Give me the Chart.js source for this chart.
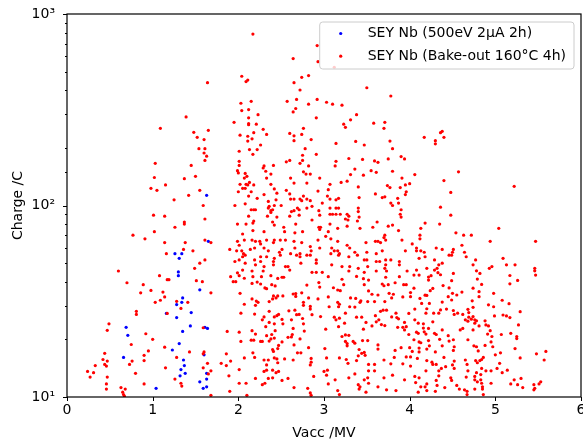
<!DOCTYPE html>
<html>
<head>
<meta charset="utf-8">
<script src="https://cdn.jsdelivr.net/npm/chart.js@4.4.1/dist/chart.umd.min.js"></script>
<style>
  html, body { margin: 0; padding: 0; background: #fff; }
  #wrap { width: 583px; height: 443px; }
</style>
</head>
<body>
<div id="wrap"><canvas id="chart" width="583" height="443"></canvas></div>
<script>
// [Vacc (MV), Charge (C)]
const blueSey = [
  [1.63,113],[1.65,65],[1.26,56],[1.34,56],[1.31,53],[1.30,45],[1.30,43],[1.55,36.3],[1.35,32.9],[1.34,31.2],
  [1.28,30.4],[1.16,27.3],[1.28,26],[1.45,27.6],[1.61,23.1],[1.64,22.8],[1.44,23.5],[1.35,22],[0.69,23.1],[0.71,21],
  [1.31,19],[1.23,17.6],[1.60,16.6],[0.66,16.1],[1.36,15.6],[1.37,14.6],[1.33,13.9],[1.38,13.3],[1.32,12.9],[1.63,13.3],
  [1.63,12.4],[1.55,12],[1.63,11.3],[1.59,11.1],[1.04,11.1]
];

const redLowVacc = [
  [1.64,438],[1.39,290],[1.09,253],[1.48,241],[1.52,227],[1.60,221],[1.65,247],[1.95,272],
  [1.54,198],[1.61,198],[1.60,188],[1.63,181],[1.61,172],[1.03,166],[1.45,162],[2.01,192],[2.01,170],[2.01,162],[1.99,152],[2.00,148],
  [1.02,140],[1.37,138],[1.50,142],[1.15,128],[0.98,123],[1.05,120],[1.55,120],[1.42,113],[2.00,118],[1.25,107],
  [1.59,100],[1.96,100],[1.01,89],[1.14,88],[1.61,85],[1.37,82],[1.37,80],[1.99,80],[1.26,77],[1.02,73],
  [0.77,70],[0.91,67],[1.61,66],[1.68,64],[1.14,64],[1.38,64],[1.99,65],[2.01,62],[1.36,59],[1.47,58],
  [1.90,59],[1.98,58],[1.16,56],[1.61,52],[1.55,50],[1.96,51],[2.01,52],[1.49,47],
  [0.60,45.5],[1.08,43],[1.17,41],[1.19,41],[1.51,40.5],[1.58,40],[1.91,42.5],[1.94,40],[1.97,40],[1.99,44.5],
  [2.01,43],[0.70,39.5],[0.89,38.6],[0.86,35],[0.98,36],[1.12,35.3],[1.14,33.3],[1.09,32],[1.03,31.2],[1.28,31.6],
  [1.41,31.2],[1.33,29],[1.68,35],[0.81,28],[0.81,27],[1.17,27.3],[0.49,24.1],[0.47,22.3],[0.92,21.4],[1.00,20],
  [0.75,18.8],[1.14,18.2],[1.43,17.2],[1.59,23],[1.87,22],[2.01,21.8],[0.44,16.9],[0.42,15.7],[0.47,15.4],[0.44,14.8],
  [0.46,14.5],[0.33,14.6],[0.24,13.6],[0.31,13.4],[0.27,12.7],[0.47,12.7],[0.90,16.5],[0.95,17.4],[0.90,15.5],[0.76,15.4],
  [0.73,14.8],[1.28,16.1],[1.60,17.2],[1.59,16.8],[1.64,15],[1.59,14.2],[1.68,13.7],[1.65,13.2],[1.86,16.8],[1.91,15.4],
  [1.80,15],[1.86,14.6],[1.89,12.9],[2.01,13.9],[2.01,11.8],[1.15,14.2],[0.80,13.3],[1.26,12.4],[1.33,11.8],[1.34,11.4],
  [0.90,11.7],[0.63,11.2],[0.68,11],[0.46,11.7],[0.46,11],[0.65,10.6],[0.66,10.3],[0.67,10.1],[1.90,10.7],[1.68,10.2]
];

const redMidVacc = [
  [2.17,786],[2.64,585],[2.92,684],[2.93,564],[3.12,527],[2.04,473],[2.09,444],[2.11,452],[2.74,467],[2.82,477],
  [2.65,438],[2.72,401],[3.50,412],[3.78,373],[2.03,342],[2.15,350],[2.57,350],[2.68,358],[2.82,338],[2.92,358],
  [3.03,346],[3.10,338],[3.21,334],[2.04,313],[2.12,317],[2.67,321],[2.64,308],[2.23,298],[2.91,287],[3.38,298],
  [3.31,280],[2.12,287],[2.12,268],[2.12,264],[2.21,266],[3.23,266],[3.25,256],[3.58,269],[3.71,272],[3.70,253],
  [2.29,250],[2.18,240],[2.33,235],[2.60,238],[2.74,235],[2.76,253],[2.02,233],[2.11,230],[2.16,223],[2.65,231],
  [2.65,218],[2.85,221],[3.37,216],[3.77,217],[2.11,217],
  [2.13,196],[2.17,185],[2.22,196],[2.26,207],[2.78,198],[2.91,185],[3.14,211],[3.47,207],[3.80,198],[3.90,180],
  [3.94,175],[3.75,175],[2.60,172],[2.56,169],[2.75,183],[2.75,172],[2.72,166],[2.82,161],[2.30,161],[2.29,157],
  [2.41,162],[3.29,176],[3.45,174],[3.59,171],[3.63,168],[3.14,170],[3.13,161],[3.36,155],[3.55,152],[3.61,149],
  [3.80,151],[2.32,151],[2.38,146],[2.08,147],[2.10,142],[2.07,139],[2.76,150],[2.79,146],[2.84,146],[2.61,139],
  [2.65,131],[2.33,139],[2.95,139],[3.31,145],[3.46,144],[3.91,139],[3.20,132],[3.27,134],[3.07,129],[2.80,131],
  [3.95,128],[4.00,130],[3.74,127],[3.77,124],[2.09,129],[2.11,128],[2.13,132],[2.18,128],[2.05,123],[2.08,123],
  [2.02,129],[2.15,118],[2.38,129],[2.42,122],[2.56,120],[2.93,119],[3.05,121],[3.40,125],[3.89,124],[3.96,118],
  [3.60,115],[3.71,111],[2.12,112],[2.22,109],[2.30,114],[2.45,116],[2.60,115],[2.76,112],[2.80,108],[3.04,112],
  [3.07,108],[2.08,102],[2.35,105],[2.36,99],[2.44,107],[2.42,100],[2.61,108],[2.65,108],[2.72,108],[2.74,106],
  [2.84,106],[3.14,107],[3.17,109],[2.98,103],[3.41,110],[3.78,103],[3.80,100],[3.86,109],[3.87,103],[3.95,114],
  [3.68,110],[2.35,97],[2.50,100],[2.15,95],[2.18,95],[2.20,95],[2.40,95],[2.38,94],[2.69,97],[2.71,95],
  [2.80,97],[2.86,99],[2.94,94],[3.07,97],[3.14,97],[3.17,97],[3.40,97],[2.65,94],[2.62,93],[3.90,95],
  [2.12,88],[2.18,83],[2.34,88],[2.38,92],[2.45,87],[2.60,88],[2.71,89],[2.95,89],[3.07,90],[3.10,90],
  [3.14,90],[3.19,90],[3.27,90],[3.29,88],[3.28,84],[3.25,85],[3.40,93],[3.41,87],[3.39,83],[2.86,84],
  [3.89,90],[3.90,87],[3.62,82],[3.75,78],[3.80,79],[3.57,77],[2.09,80],[2.17,81],[2.40,82],[2.42,79],
  [2.53,77],[2.67,80],[2.66,72],[2.54,73],[2.94,77],[2.96,77],[2.95,75],[3.07,80],[3.05,73],[3.16,76],
  [3.27,78],[2.17,74],[2.30,73],[2.05,71],[2.75,73],[3.42,76],[3.71,70],[3.87,74],[2.07,66],[2.16,66],
  [2.20,65],[2.25,65],[2.26,63],[2.33,66],[2.42,66],[2.41,64],[2.49,66],[2.55,66],[2.65,65],[2.74,64],
  [2.93,66],[3.02,69],[3.08,67],[3.16,65],[3.09,60],[3.27,62],[3.30,60],[3.49,64],[3.60,65],[3.63,65],
  [3.66,64],[3.70,68],[3.72,66],[3.91,66],[2.04,58],[2.06,56],[2.19,60],[2.14,59],[2.30,60],[2.35,58],
  [2.48,57],[2.51,59],[2.66,60],[2.84,61],[2.85,58],[2.95,60],[3.12,58],[3.16,58],[3.36,57],[3.50,57],
  [3.61,56],[3.68,58],[3.95,58],[2.05,54],[2.08,55],[2.19,52],[2.26,51],[2.26,54],[2.33,54],[2.41,51],
  [2.42,53],[2.49,55],[2.61,56],[2.68,55],[2.72,56],[2.72,54],[2.80,55],[2.84,55],[2.91,52],[3.08,56],
  [3.17,55],[3.18,56],[3.29,54],[3.39,55],[3.47,52],[3.50,52],[3.61,51],[3.65,51],[3.72,52],[3.78,52],
  [3.88,51],[2.08,50],[2.20,49],[2.30,48],[2.41,49],[2.55,48],[2.58,48],[2.73,50],[2.91,50],[3.09,49],
  [3.21,48],[3.30,48],[3.40,47],[3.51,48],[3.71,47],[3.72,49],[3.88,49],
  [2.05,46],[2.16,45.5],[2.17,42.5],[2.27,42.5],[2.29,45.5],[2.38,43],[2.46,41.6],[2.51,42.2],[2.53,42.2],[2.60,46],
  [2.86,44.8],[2.91,44.8],[2.98,44.8],[3.05,42.5],[3.21,41.2],[3.29,45.5],[3.38,42.6],[3.47,44.8],[3.46,41.5],[3.52,40.8],
  [3.61,45.5],[3.73,45.5],[3.72,42.2],[3.88,42.5],[3.97,45.5],[2.07,41.7],[2.16,39.2],[2.22,39.8],[2.26,38.9],[2.31,37.1],
  [2.33,36.8],[2.39,38.6],[2.43,38],[2.67,34.7],[2.74,35],[2.80,38.4],[2.94,39.6],[2.95,37.5],[3.11,37.2],[3.16,36.2],
  [3.19,35.9],[3.23,38.6],[3.47,38.6],[3.52,35.8],[3.56,34.4],[3.68,38.9],[3.70,38.1],[3.75,38.6],[3.83,39.5],[3.93,38.6],
  [3.96,38.6],[3.63,34.1],[3.76,34.8],[3.81,34.4],[2.02,34.8],[2.16,32.5],[2.21,31.7],[2.23,31.2],[2.20,30.1],[2.07,30.5],
  [2.36,31.5],[2.40,32.5],[2.41,33.7],[2.44,32.9],[2.46,33.7],[2.52,33.7],[2.64,34.5],[2.67,33.5],[2.76,31.2],[2.82,32.9],
  [2.93,32.5],[3.05,33.3],[3.06,29.6],[3.16,31.2],[3.18,30.5],[3.31,32.9],[3.37,32.7],[3.43,31.8],[3.42,31.2],[3.51,31.5],
  [3.59,31.5],[3.71,31.5],[3.79,32.9],[3.92,33.3],[4.01,33.4],[3.17,29.6],[3.30,29.6],[3.36,29.5],[3.69,28.4],[3.73,28.4],
  [3.84,27.4],[2.03,27.4],[2.19,27.1],[2.30,26.2],[2.28,25.3],[2.36,28],[2.45,26.6],[2.47,27],[2.42,26.2],[2.51,25.4],
  [2.59,28.2],[2.66,28.4],[2.68,26.9],[2.71,27],[2.84,28.8],[2.84,29.7],[2.76,30.1],[2.86,26.9],[2.96,26.3],[3.12,26.1],
  [3.14,25.3],[3.18,25.8],[3.25,27.4],[3.38,26.1],[3.44,26.1],[3.49,24.5],[3.60,26.6],[3.61,24.7],[3.64,25.3],[3.66,28],
  [3.79,26.2],[3.85,26],[3.87,25.6],[3.94,24.5],[3.99,27.3],[2.36,24.5],[2.32,23.3],[2.42,24.1],[2.52,24.1],[2.62,25.3],
  [2.75,25.7],[2.16,22.2],[2.20,21.3],[2.43,22.2],[2.33,20.9],[2.39,21.2],[2.42,20.3],[2.64,22.8],[2.63,21.2],[2.76,24.1],
  [2.77,22.1],[2.58,20.5],[2.62,20.6],[3.02,22.6],[3.17,23.3],[3.24,24.3],[3.25,21.1],[3.29,21],[3.21,20.7],[3.46,22.6],
  [3.56,23.5],[3.67,23.9],[3.71,23.6],[3.86,23.1],[3.92,23.1],[3.94,22.4],[3.99,21.2],[3.96,23.3],[2.03,19.5],[2.15,19.8],
  [2.18,19.8],[2.26,19.5],[2.28,19.5],[2.36,19.6],[2.38,20.1],[2.47,18.6],[2.40,17.7],[2.41,17.3],[2.46,17.9],[2.51,19.4],
  [2.72,20.1],[2.65,18.7],[2.82,18.1],[3.01,17.9],[3.25,19.5],[3.27,19],[3.27,18.5],[3.34,19.5],[3.36,19.1],[3.45,19.7],
  [3.51,19.7],[3.63,18.7],[3.63,17.8],[3.83,17.5],[3.90,18.1],[4.00,18.1],[3.41,17.7],[3.44,16.9],[3.47,17.1],[3.48,16.5],
  [2.07,16],[2.17,17],[2.19,16.1],[2.30,15.6],[2.33,14.7],[2.35,15.6],[2.42,16],[2.45,15.8],[2.46,15.1],[2.54,15.8],
  [2.64,15.6],[2.69,17],[2.73,17],[2.85,15.9],[2.85,15.2],[2.84,14.7],[3.03,16],[3.18,16],[3.26,15.7],[3.28,15],
  [3.40,16.4],[3.38,15.5],[3.52,14.8],[3.59,14.8],[3.70,15.6],[3.78,14.9],[3.82,16.1],[3.92,14.9],[3.96,16.2],[4.01,16.2],
  [2.30,13.6],[2.33,13.8],[2.40,13.8],[2.44,13.4],[2.47,13.6],[2.88,12.8],[3.00,13.6],[3.04,13.8],[2.20,12.5],[2.28,11.6],
  [2.31,11.8],[2.35,12.5],[2.40,12.6],[2.51,12.2],[2.58,12.5],[2.65,11.2],[2.81,11.1],[2.84,10.5],[2.85,10.2],[3.03,13],
  [3.05,11.7],[3.13,12.3],[3.16,10.8],[3.18,10.3],[3.29,12.6],[3.36,13.2],[3.40,11.6],[3.41,11],[3.47,12.3],[3.52,13.7],
  [3.51,12.6],[3.52,11.8],[3.59,13.7],[3.63,11.3],[3.73,10.9],[3.80,13],[3.84,10.8],[3.94,12.3],[2.10,10.2],[2.09,11.8],
  [3.49,10.6],[3.42,11.3],[3.70,12.6]
];

const redHighVacc = [
  [4.38,244],[4.36,240],[4.17,227],[4.30,218],[4.40,227],
  [4.30,210],[4.06,145],[4.57,150],[4.40,135],[5.22,126],[4.48,117],[4.36,98],[4.48,89],[4.18,81],[4.35,80],
  [4.13,76],[5.04,76],[4.54,72],[4.12,70],[4.63,70],[4.72,70],[4.12,67],[4.94,65],[5.47,65],[4.03,63],
  [4.61,62],[4.08,60],[4.08,58],[4.31,60],[4.38,59],[4.51,59],[4.50,57],[4.13,58],[4.17,57],[4.64,57],
  [4.46,55],[4.49,55],[4.18,54],[4.11,53],[4.66,54],[4.77,52],[4.29,52],[5.09,53],[4.34,49],[4.38,50],
  [4.74,49],[5.13,49],[5.23,49],[4.20,47],[4.96,48],[4.93,47],[5.46,47],[4.32,47],
  [4.05,43.3],[4.08,46],[4.11,43.3],[4.22,42.3],[4.22,40.8],[4.25,43],[4.29,46],[4.33,44.6],[4.36,43.5],[4.51,44.2],
  [4.78,45.6],[4.82,44.2],[4.84,38.7],[4.79,41.3],[4.74,37],[4.81,35.5],[4.49,40.5],[4.46,37.1],[4.39,38.2],[4.27,36.9],
  [4.24,35.9],[4.20,33.9],[5.17,43.1],[5.17,39],[5.26,40.6],[5.47,43.3],[5.46,45.6],[4.05,37],[4.01,35.1],[4.12,32.7],
  [4.18,34],[4.14,30.8],[4.23,30.8],[4.38,31.3],[4.45,33.4],[4.50,34.8],[4.55,34.1],[4.61,35.3],[4.73,31.8],[4.81,33.4],
  [4.98,34.8],[5.08,32],[5.16,30.7],[4.92,30.3],[4.98,29.6],[4.74,29.4],[4.49,32.1],[4.06,28.8],[4.19,27.4],[4.20,28.9],
  [4.28,27.4],[4.27,24.7],[4.34,27.4],[4.36,28.5],[4.43,28.8],[4.51,28.3],[4.52,27],[4.56,27.4],[4.62,27],[4.68,28.7],
  [4.69,27.6],[4.69,26.1],[4.74,26.3],[4.76,25.3],[4.78,25],[4.72,25.5],[4.65,25.3],[4.68,24.9],[4.88,25],[4.89,23.8],
  [4.99,26.5],[5.09,26.8],[5.13,26.5],[5.17,26],[5.29,27.9],[4.06,25.3],[4.10,24.3],[4.16,24.1],[4.16,22.9],[4.08,21.8],
  [4.10,21.5],[4.17,21.9],[4.19,21.3],[4.22,22.8],[4.29,21.5],[4.31,21.2],[4.38,22.4],[4.45,20.9],[4.59,22.4],[4.62,22.8],
  [4.74,22.4],[4.76,24.3],[4.81,23.5],[4.92,23.5],[4.94,22.2],[4.91,21.3],[4.96,20.7],[5.07,21.2],[5.18,21.5],[5.25,20.7],
  [5.25,20.2],[5.27,23.8],[4.05,19.9],[4.11,19.4],[4.13,19.2],[4.22,19.7],[4.23,18.5],[4.20,17.8],[4.11,18],[4.11,17.2],
  [4.03,17.3],[4.30,17.2],[4.35,20],[4.38,18.5],[4.46,19.6],[4.51,19.9],[4.52,18.3],[4.51,17.5],[4.68,19.9],[4.75,18.5],
  [4.78,18.3],[4.80,17.4],[4.88,18.6],[4.95,19.4],[4.97,18.3],[5.06,17],[5.00,16.6],[5.23,17.9],[5.48,16.8],[5.59,17.3],
  [5.57,15.6],[4.09,15.9],[4.20,15.5],[4.26,15.2],[4.27,14.8],[4.31,14.8],[4.40,16.1],[4.52,15.4],[4.50,14.7],[4.52,14.1],
  [4.42,14.4],[4.37,14.1],[4.34,13.7],[4.19,13.7],[4.65,15.6],[4.67,14.8],[4.79,15.1],[4.82,15.5],[4.84,15.7],[4.86,16.1],
  [4.77,15.5],[4.68,13.7],[4.78,13.4],[4.83,13.1],[4.84,14.1],[4.95,13.7],[4.89,13.7],[5.05,15],[5.08,13.4],[5.02,14.1],
  [5.14,13.8],[5.29,16],[4.01,14.5],[4.06,12.8],[4.11,12.6],[4.07,11.9],[4.13,11.3],[4.18,11.3],[4.20,11.7],[4.34,12.9],
  [4.31,12.2],[4.32,11.5],[4.41,11.2],[4.48,12.6],[4.49,12.2],[4.55,11.5],[4.66,12.7],[4.76,12.8],[4.76,12.3],[4.83,12.3],
  [4.79,12],[4.84,11.8],[4.85,11.3],[4.95,11.8],[4.76,11],[4.67,10.7],[4.64,10.9],[4.67,10.3],[4.86,10.3],[4.85,11],
  [4.58,11],[4.30,10.7],[4.20,10.8],[5.18,11.7],[5.22,12.3],[5.26,11.6],[5.30,12.5],[5.32,11.2],[5.45,11.6],[5.46,11.1],
  [5.51,11.7],[5.53,12],[5.45,10.9],[4.10,10.6]
];

const seriesLabels = ['SEY Nb (500eV 2μA 2h)', 'SEY Nb (Bake-out 160°C 4h)'];
const xTickValues = [0, 1, 2, 3, 4, 5, 6];
const chargeRange = [10, 1000];
const superDigits = { '1': '¹', '2': '²', '3': '³' };

const FONT = 'DejaVu Sans';
const FONT_SIZE = 14;
Chart.defaults.font.family = FONT;
Chart.defaults.font.size = FONT_SIZE;
Chart.defaults.color = '#000';

const toXY = pts => pts.map(([x, y]) => ({ x, y }));
const isDecade = v => { const e = Math.log10(v); return Math.abs(e - Math.round(e)) < 1e-6; };

// legend box sitting inside the axes, upper right, like matplotlib
const insetLegend = {
  id: 'insetLegend',
  afterDatasetsDraw(chart) {
    const { ctx, chartArea: a } = chart;
    ctx.save();
    ctx.font = FONT_SIZE + 'px "' + FONT + '"';
    const textW = Math.max(...chart.data.datasets.map(d => ctx.measureText(d.label).width));
    const w = textW + 56, h = 47;
    const x0 = a.right - 7 - w, y0 = a.top + 8;
    ctx.beginPath();
    ctx.roundRect(x0, y0, w, h, 3);
    ctx.fillStyle = 'rgba(255,255,255,0.8)';
    ctx.fill();
    ctx.strokeStyle = '#cccccc';
    ctx.lineWidth = 1;
    ctx.stroke();
    chart.data.datasets.forEach((d, i) => {
      const cy = y0 + 11.5 + i * 22.7;
      ctx.fillStyle = d.backgroundColor;
      ctx.beginPath();
      ctx.arc(x0 + 21, cy, 1.6, 0, Math.PI * 2);
      ctx.fill();
      ctx.fillStyle = '#000';
      ctx.textBaseline = 'middle';
      ctx.fillText(d.label, x0 + 48, cy);
    });
    ctx.restore();
  }
};

// frame + outward tick marks (short minor ticks on the log axis)
const frameTicks = {
  id: 'frameTicks',
  afterDraw(chart) {
    const { ctx, chartArea: a, scales: { x, y } } = chart;
    ctx.save();
    ctx.strokeStyle = '#000';
    ctx.lineWidth = 1;
    ctx.beginPath();
    x.ticks.forEach(t => {
      const px = Math.round(x.getPixelForValue(t.value)) + 0.5;
      ctx.moveTo(px, a.bottom);
      ctx.lineTo(px, a.bottom + 4);
    });
    y.ticks.forEach(t => {
      const py = Math.round(y.getPixelForValue(t.value)) + 0.5;
      ctx.moveTo(a.left, py);
      ctx.lineTo(a.left - (isDecade(t.value) ? 4 : 2), py);
    });
    ctx.stroke();
    ctx.lineWidth = 1.2;
    ctx.strokeRect(a.left, a.top, a.right - a.left, a.bottom - a.top);
    ctx.restore();
  }
};

new Chart(document.getElementById('chart'), {
  type: 'scatter',
  data: {
    datasets: [
      {
        label: seriesLabels[0],
        data: toXY(blueSey),
        backgroundColor: '#0000ff',
        order: 2
      },
      {
        label: seriesLabels[1],
        data: toXY([...redLowVacc, ...redMidVacc, ...redHighVacc]),
        backgroundColor: '#ff0000',
        order: 1
      }
    ]
  },
  options: {
    responsive: false,
    animation: false,
    events: [],
    elements: { point: { radius: 1.6, borderWidth: 0, hoverRadius: 1.6 } },
    layout: { padding: { top: 14, right: 2, left: 0, bottom: 0 } },
    plugins: { legend: { display: false }, tooltip: { enabled: false } },
    scales: {
      x: {
        type: 'linear',
        min: xTickValues[0],
        max: xTickValues[xTickValues.length - 1],
        afterBuildTicks: s => { s.ticks = xTickValues.map(v => ({ value: v })); },
        grid: { display: false, drawTicks: false },
        border: { display: false },
        ticks: { padding: 5, maxRotation: 0, autoSkip: false, callback: v => String(v) },
        title: { display: true, text: 'Vacc /MV', padding: { top: 0, bottom: 1.6 } },
        afterFit: s => { s.height = 46; s.paddingLeft = 0; s.paddingRight = 0; }
      },
      y: {
        type: 'logarithmic',
        min: chargeRange[0],
        max: chargeRange[1],
        grid: { display: false, drawTicks: false },
        border: { display: false },
        ticks: {
          padding: 12,
          autoSkip: false,
          callback: v => isDecade(v) ? '10' + superDigits[String(Math.round(Math.log10(v)))] : ''
        },
        title: { display: true, text: 'Charge /C', padding: { top: 9.6, bottom: 0 } },
        afterFit: s => { s.width = 67; s.paddingTop = 0; s.paddingBottom = 0; }
      }
    }
  },
  plugins: [insetLegend, frameTicks]
});
</script>
</body>
</html>
